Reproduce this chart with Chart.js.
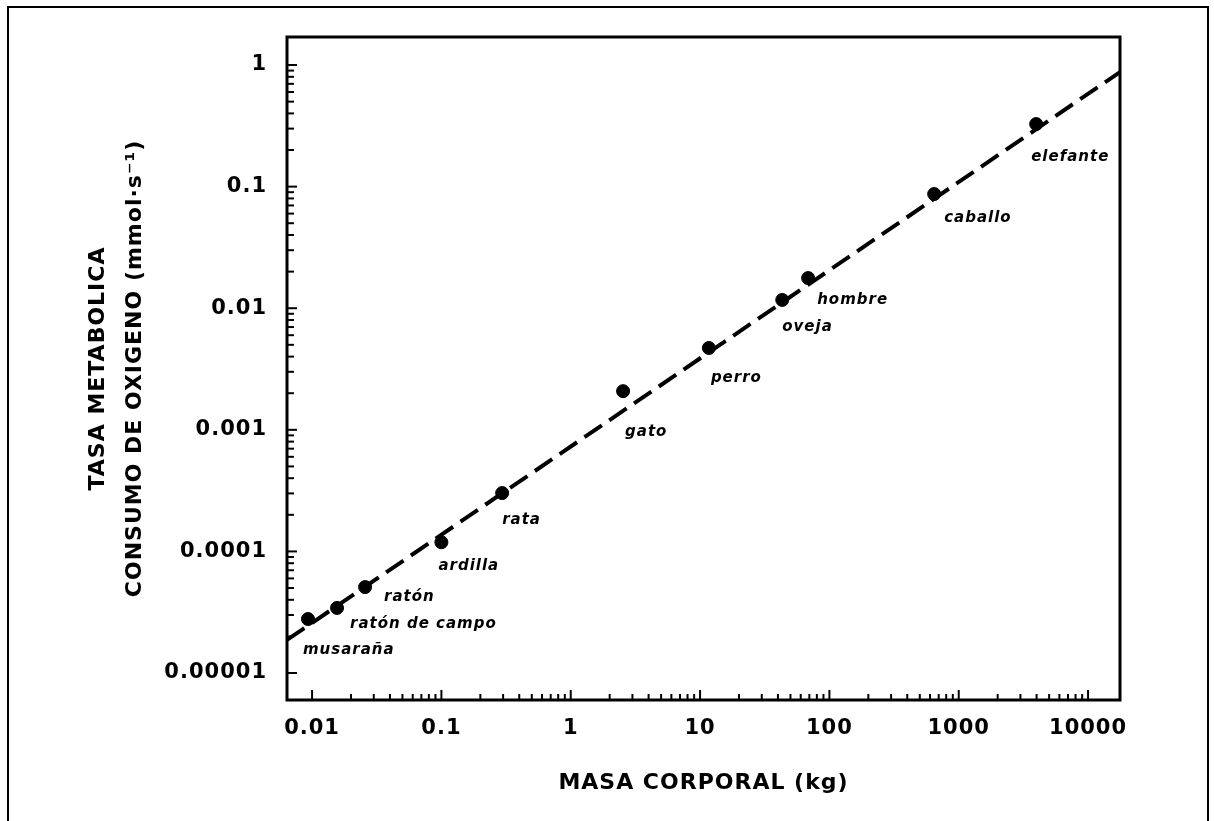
<!DOCTYPE html>
<html>
<head>
<meta charset="utf-8">
<script src="https://cdn.jsdelivr.net/npm/chart.js@4.4.1/dist/chart.umd.min.js"></script>
<style>
  html, body { margin: 0; padding: 0; background: #fff; }
</style>
</head>
<body>
<canvas id="metabolicChart" width="1214" height="821"></canvas>
<script>
// Values
var animals = ['musaraña', 'ratón de campo', 'ratón', 'ardilla', 'rata', 'gato',
               'perro', 'oveja', 'hombre', 'caballo', 'elefante'];
var bodyMass = [0.0093, 0.0156, 0.0257, 0.1, 0.295, 2.54, 11.7, 43.2, 68.5, 646, 3970];
var oxygenRate = [0.0000278, 0.0000343, 0.0000509, 0.000119, 0.000302, 0.00208,
                  0.00471, 0.0117, 0.0177, 0.0869, 0.327];

// dashed regression line, end points at the plot edges
var fitMass = [0.0064, 17660];
var fitRate = [0.0000187, 0.875];

var xTickValues = [0.01, 0.1, 1, 10, 100, 1000, 10000];
var xTickLabels = ['0.01', '0.1', '1', '10', '100', '1000', '10000'];
var yTickValues = [0.00001, 0.0001, 0.001, 0.01, 0.1, 1];
var yTickLabels = ['0.00001', '0.0001', '0.001', '0.01', '0.1', '1'];

// label placement next to each dot (pixels from the dot)
var labelShift = [[-5, 31], [13, 16], [19, 10], [-3, 24], [0, 27], [2, 41],
                  [2, 30], [0, 27], [9, 22], [10, 24], [-5, 33]];

function logTicks(majors) {
  var out = [];
  majors.forEach(function(m, i) {
    out.push({ value: m });
    if (i < majors.length - 1) {
      for (var k = 2; k <= 9; k++) out.push({ value: m * k });
    }
  });
  return out;
}

function tickLabel(values, labels) {
  return function(value) {
    var i = values.indexOf(value);
    return i >= 0 ? labels[i] : '';
  };
}

var points = bodyMass.map(function(m, i) { return { x: m, y: oxygenRate[i] }; });
var fitLine = fitMass.map(function(m, i) { return { x: m, y: fitRate[i] }; });

// frame, plot box, inward tick marks and animal names
var decorations = {
  id: 'decorations',
  beforeUpdate: function(chart) { chart.ctx.letterSpacing = '1px'; },
  beforeDraw: function(chart) {
    var ctx = chart.ctx;
    ctx.letterSpacing = '1px';
    ctx.save();
    ctx.strokeStyle = '#000';
    ctx.lineWidth = 2;
    ctx.strokeRect(8, 7, 1200, 840);
    ctx.restore();
  },
  afterDatasetsDraw: function(chart) {
    var ctx = chart.ctx;
    var a = chart.chartArea;
    var xs = chart.scales.x, ys = chart.scales.y;
    ctx.save();
    ctx.strokeStyle = '#000';
    ctx.lineWidth = 2;
    xs.ticks.forEach(function(t) {
      var px = xs.getPixelForValue(t.value);
      var len = xTickValues.indexOf(t.value) >= 0 ? 10 : 6;
      ctx.beginPath();
      ctx.moveTo(px, a.bottom);
      ctx.lineTo(px, a.bottom - len);
      ctx.stroke();
    });
    ys.ticks.forEach(function(t) {
      var py = ys.getPixelForValue(t.value);
      var len = yTickValues.indexOf(t.value) >= 0 ? 10 : 7;
      ctx.beginPath();
      ctx.moveTo(a.left, py);
      ctx.lineTo(a.left + len, py);
      ctx.stroke();
    });
    ctx.lineWidth = 3;
    ctx.strokeRect(a.left, a.top, a.right - a.left, a.bottom - a.top);

    ctx.fillStyle = '#000';
    ctx.font = 'italic bold 15px "DejaVu Sans"';
    ctx.textAlign = 'left';
    ctx.textBaseline = 'middle';
    animals.forEach(function(name, i) {
      var px = xs.getPixelForValue(bodyMass[i]);
      var py = ys.getPixelForValue(oxygenRate[i]);
      ctx.fillText(name, px + labelShift[i][0], py + labelShift[i][1]);
    });
    ctx.restore();
  }
};

Chart.defaults.color = '#000';
Chart.defaults.font.family = '"DejaVu Sans", sans-serif';

var ctx = document.getElementById('metabolicChart').getContext('2d');
var metabolicChart = new Chart(ctx, {
  type: 'scatter',
  data: {
    datasets: [{
      data: points,
      backgroundColor: '#000',
      borderColor: '#000',
      pointRadius: 6.5,
      pointHoverRadius: 6.5,
      showLine: false
    }, {
      type: 'line',
      data: fitLine,
      borderColor: '#000',
      borderWidth: 4,
      borderDash: [21, 9],
      pointRadius: 0,
      fill: false,
      tension: 0
    }]
  },
  options: {
    responsive: false,
    animation: false,
    layout: { padding: { top: 37, right: 94, left: 0, bottom: 0 } },
    plugins: {
      legend: { display: false },
      tooltip: { enabled: false }
    },
    scales: {
      x: {
        type: 'logarithmic',
        min: 0.0064,
        max: 17660,
        grid: { display: false, drawTicks: false },
        border: { display: false },
        afterBuildTicks: function(scale) { scale.ticks = logTicks(xTickValues); },
        afterFit: function(scale) { scale.height = 121; },
        ticks: {
          autoSkip: false,
          maxRotation: 0,
          padding: 16,
          font: { size: 21, weight: 'bold' },
          callback: tickLabel(xTickValues, xTickLabels)
        },
        title: {
          display: true,
          text: 'MASA CORPORAL (kg)',
          font: { size: 22, weight: 'bold' },
          padding: { top: 0, bottom: 25 }
        }
      },
      y: {
        type: 'logarithmic',
        min: 0.0000060,
        max: 1.70,
        grid: { display: false, drawTicks: false },
        border: { display: false },
        afterBuildTicks: function(scale) { scale.ticks = logTicks(yTickValues); },
        afterFit: function(scale) { scale.width = 287; },
        ticks: {
          autoSkip: false,
          padding: 20,
          font: { size: 21, weight: 'bold' },
          callback: tickLabel(yTickValues, yTickLabels)
        },
        title: {
          display: true,
          text: ['TASA METABOLICA', 'CONSUMO DE OXIGENO (mmol·s⁻¹)'],
          font: { size: 22, weight: 'bold', lineHeight: 1.72 },
          padding: { top: 79, bottom: 0 }
        }
      }
    }
  },
  plugins: [decorations]
});
</script>
</body>
</html>
